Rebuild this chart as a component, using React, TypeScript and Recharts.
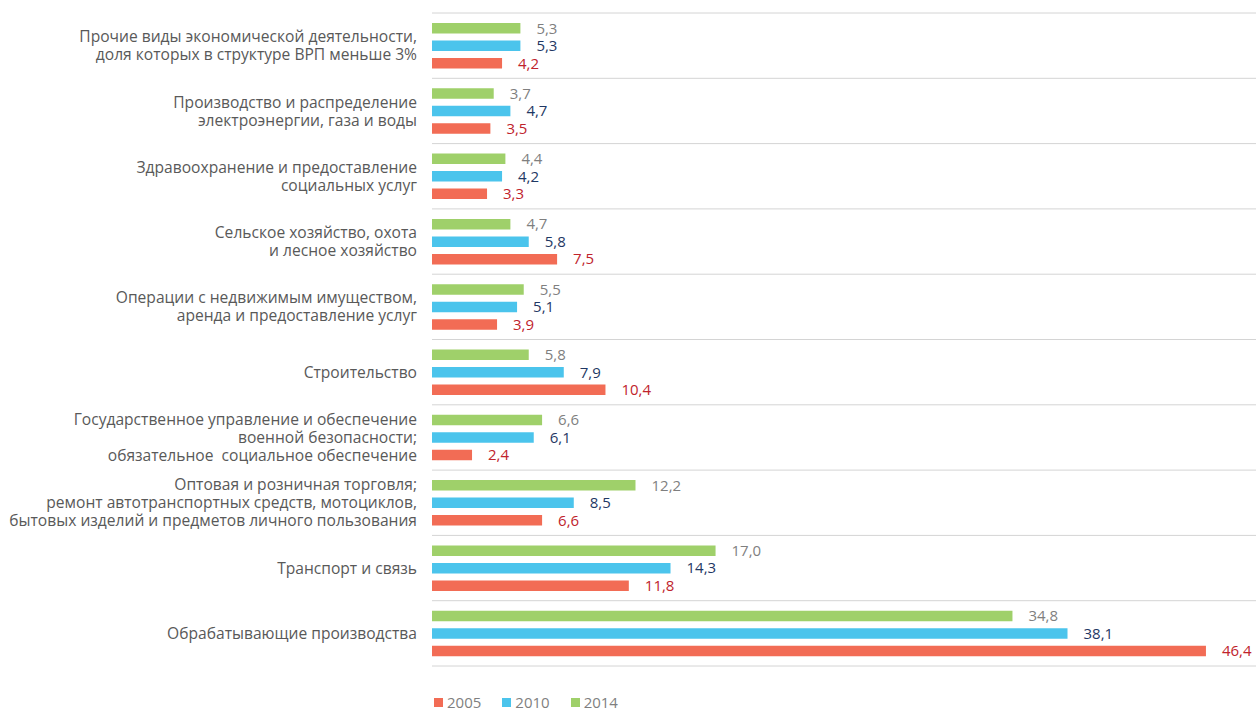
import React from 'react';
import {
  BarChart,
  Bar,
  XAxis,
  YAxis,
  CartesianGrid,
  LabelList
} from 'recharts';

const categories = [
  'Прочие виды экономической деятельности,\nдоля которых в структуре ВРП меньше 3%',
  'Производство и распределение\nэлектроэнергии, газа и воды',
  'Здравоохранение и предоставление\nсоциальных услуг',
  'Сельское хозяйство, охота\nи лесное хозяйство',
  'Операции с недвижимым имуществом,\nаренда и предоставление услуг',
  'Строительство',
  'Государственное управление и обеспечение\nвоенной безопасности;\nобязательное  социальное обеспечение',
  'Оптовая и розничная торговля;\nремонт автотранспортных средств, мотоциклов,\nбытовых изделий и предметов личного пользования',
  'Транспорт и связь',
  'Обрабатывающие производства'
];

const values2014 = [5.3, 3.7, 4.4, 4.7, 5.5, 5.8, 6.6, 12.2, 17.0, 34.8];
const values2010 = [5.3, 4.7, 4.2, 5.8, 5.1, 7.9, 6.1, 8.5, 14.3, 38.1];
const values2005 = [4.2, 3.5, 3.3, 7.5, 3.9, 10.4, 2.4, 6.6, 11.8, 46.4];

const legendItems = [
  { name: '2005', color: '#f26c55' },
  { name: '2010', color: '#4bc4ec' },
  { name: '2014', color: '#9fd06a' }
];

const data = categories.map((name, i) => ({
  name,
  y2014: values2014[i],
  y2010: values2010[i],
  y2005: values2005[i]
}));

const FONT = '"Open Sans", sans-serif';

const fmt = (v: any) => Number(v).toFixed(1).replace('.', ',');

const CategoryTick = (props: any) => {
  const { x, y, payload } = props;
  const lines: string[] = String(payload.value).split('\n');
  const lh = 18;
  const start = -((lines.length - 1) * lh) / 2;
  return (
    <text
      x={x - 7}
      y={y}
      textAnchor='end'
      fill='#595959'
      fontSize={15.6}
      fontFamily={FONT}
      style={{ whiteSpace: 'pre' }}
    >
      {lines.map((ln, i) => (
        <tspan key={i} x={x - 7} y={y + start + i * lh} dy='0.36em'>
          {ln}
        </tspan>
      ))}
    </text>
  );
};

export default function App() {
  return (
    <div style={{ position: 'absolute', left: 0, top: 0, width: 1256, height: 711, overflow: 'hidden', background: '#fff' }}>
      <BarChart
        width={1266}
        height={711}
        data={data}
        layout='vertical'
        margin={{ top: 13, right: 0, bottom: 45, left: 0 }}
        barSize={10.5}
        barGap={7}
      >
        <CartesianGrid
          vertical={false}
          stroke='#d4d4d4'
          horizontalCoordinatesGenerator={({ offset }: any) =>
            categories.map((_, i) => offset.top + (i * offset.height) / categories.length).concat(offset.top + offset.height)
          }
        />
        <XAxis type='number' domain={[0, 50]} hide />
        <YAxis
          type='category'
          dataKey='name'
          width={432}
          axisLine={false}
          tickLine={false}
          tick={<CategoryTick />}
          interval={0}
        />
        <Bar dataKey='y2014' fill='#9fd06a' isAnimationActive={false}>
          <LabelList dataKey='y2014' position='right' offset={16} formatter={fmt} fill='#7f7f7f' fontSize={15} fontFamily={FONT} />
        </Bar>
        <Bar dataKey='y2010' fill='#4bc4ec' isAnimationActive={false}>
          <LabelList dataKey='y2010' position='right' offset={16} formatter={fmt} fill='#1f3864' fontSize={15} fontFamily={FONT} />
        </Bar>
        <Bar dataKey='y2005' fill='#f26c55' isAnimationActive={false}>
          <LabelList dataKey='y2005' position='right' offset={16} formatter={fmt} fill='#c0232c' fontSize={15} fontFamily={FONT} />
        </Bar>
      </BarChart>
      <div style={{ position: 'absolute', left: 434, top: 692, display: 'flex', fontFamily: FONT, fontSize: 15, color: '#7f7f7f' }}>
        {legendItems.map((it) => (
          <div key={it.name} style={{ display: 'flex', alignItems: 'center', marginRight: 21 }}>
            <span style={{ width: 9, height: 9, background: it.color, display: 'inline-block', marginRight: 4 }} />
            <span>{it.name}</span>
          </div>
        ))}
      </div>
    </div>
  );
}
